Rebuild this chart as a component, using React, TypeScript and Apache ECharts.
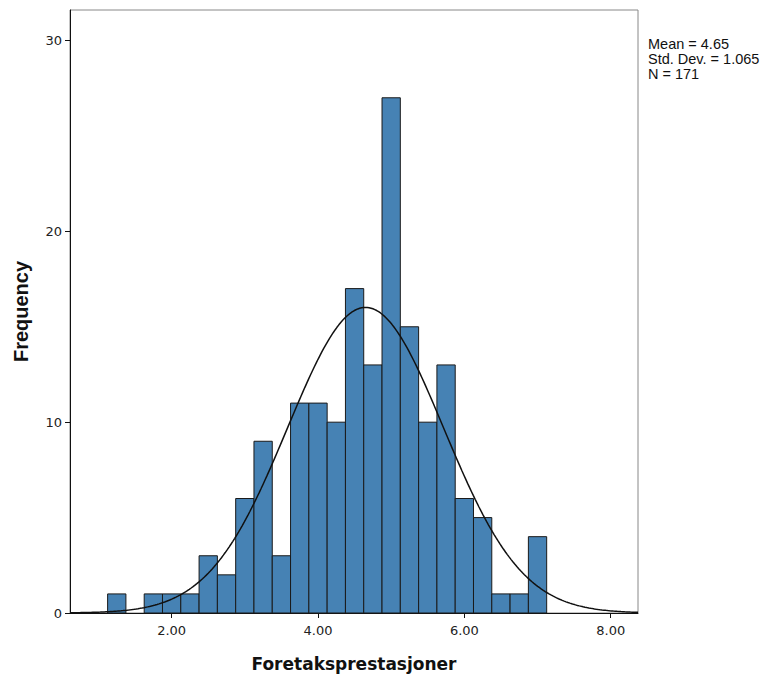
import React, { useEffect, useRef } from "react";
import * as echarts from "echarts";

const binStart = 1.125;
const binWidth = 0.25;
const counts = [1, 0, 1, 1, 1, 3, 2, 6, 9, 3, 11, 11, 10, 17, 13, 27, 15, 10, 13, 6, 5, 1, 1, 4];
const xTicks = [2, 4, 6, 8];
const yTicks = [0, 10, 20, 30];
const MEAN = 4.65;
const SD = 1.065;
const N = 171;
const statLines = ["Mean = 4.65", "Std. Dev. = 1.065", "N = 171"];

const X_MIN = 0.611;
const X_MAX = 8.373;
const Y_MAX = 31.6;

export default function App() {
  const ref = useRef<HTMLDivElement>(null);
  useEffect(() => {
    document.body.style.margin = "0";
    const chart = echarts.init(ref.current!, undefined, { renderer: "svg" });
    const bars = counts
      .map((c, i) => [binStart + i * binWidth, binStart + (i + 1) * binWidth, c])
      .filter((d) => d[2] > 0);
    const curve: number[][] = [];
    const steps = 300;
    for (let i = 0; i <= steps; i++) {
      const x = X_MIN + ((X_MAX - X_MIN) * i) / steps;
      const z = (x - MEAN) / SD;
      const y = (N * binWidth) / (SD * Math.sqrt(2 * Math.PI)) * Math.exp(-0.5 * z * z);
      curve.push([x, y]);
    }
    chart.setOption({
      animation: false,
      grid: {
        left: 70,
        right: 127,
        top: 10,
        bottom: 65,
        show: true,
        borderColor: "#888",
        borderWidth: 1,
        backgroundColor: "#fff",
      },
      xAxis: {
        type: "value",
        min: X_MIN,
        max: X_MAX,
        name: "Foretaksprestasjoner",
        nameLocation: "middle",
        nameGap: 42,
        nameTextStyle: { fontFamily: "DejaVu Sans", fontWeight: "bold", fontSize: 17, color: "#111" },
        splitLine: { show: false },
        axisLine: { show: true, lineStyle: { color: "#111", width: 1 } },
        axisTick: { show: true, customValues: xTicks, length: 5, lineStyle: { color: "#111" } },
        axisLabel: {
          customValues: xTicks,
          formatter: (v: number) => v.toFixed(2),
          fontFamily: "DejaVu Sans",
          fontSize: 13,
          color: "#222",
          margin: 11,
        },
      },
      yAxis: {
        type: "value",
        min: 0,
        max: Y_MAX,
        name: "Frequency",
        nameLocation: "middle",
        nameGap: 39,
        nameRotate: 90,
        nameTextStyle: { fontFamily: "Liberation Sans", fontWeight: "bold", fontSize: 20, color: "#111" },
        splitLine: { show: false },
        axisLine: { show: true, lineStyle: { color: "#111", width: 1 } },
        axisTick: { show: true, customValues: yTicks, length: 5, lineStyle: { color: "#111" } },
        axisLabel: {
          customValues: yTicks,
          fontFamily: "DejaVu Sans",
          fontSize: 13,
          color: "#222",
          margin: 8,
        },
      },
      series: [
        {
          type: "custom",
          data: bars,
          encode: { x: [0, 1], y: 2 },
          renderItem: (params: any, api: any) => {
            const p0 = api.coord([api.value(0), api.value(2)]);
            const p1 = api.coord([api.value(1), 0]);
            return {
              type: "rect",
              shape: { x: p0[0], y: p0[1], width: p1[0] - p0[0], height: p1[1] - p0[1] },
              style: { fill: "#4682b4", stroke: "#1a1a1a", lineWidth: 1 },
            };
          },
          z: 2,
        },
        {
          type: "line",
          data: curve,
          showSymbol: false,
          symbol: "none",
          lineStyle: { color: "#111", width: 1.5 },
          z: 3,
        },
      ],
      graphic: statLines.map((t, i) => ({
        type: "text",
        left: 648,
        top: 36 + i * 15,
        style: { text: t, fontFamily: "Liberation Sans", fontSize: 14.5, fill: "#111" },
      })),
    });
    return () => chart.dispose();
  }, []);
  return <div ref={ref} style={{ width: 765, height: 678 }} />;
}
